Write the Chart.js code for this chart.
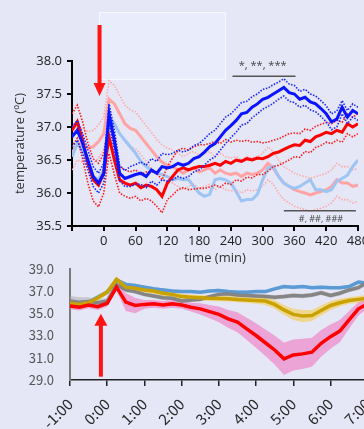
<!DOCTYPE html>
<html>
<head>
<meta charset="utf-8">
<script src="https://cdn.jsdelivr.net/npm/chart.js@4.4.1/dist/chart.umd.min.js"></script>
<style>
  html, body { margin: 0; padding: 0; background: #e5e7f6; width: 364px; height: 429px; overflow: hidden; }
  #wrap { position: relative; width: 364px; height: 429px; }
  canvas { position: absolute; left: 0; }
  #bottomChart { top: 245px; }
  #topChart { top: 0; }
</style>
</head>
<body>
<div id="wrap">
  <canvas id="bottomChart" width="400" height="184"></canvas>
  <canvas id="topChart" width="364" height="270"></canvas>
</div>
<script>
// ---- top panel: temperature vs time (min) ----
const minutes = [-60, -50, -40, -30, -20, -10, 0, 10, 20, 30, 40, 50, 60, 70, 80, 90, 100,
  110, 120, 130, 140, 150, 160, 170, 180, 190, 200, 210, 220, 230, 240, 250, 260, 270,
  280, 290, 300, 310, 320, 330, 340, 350, 360, 370, 380, 390, 400, 410, 420, 430, 440,
  450, 460, 470, 480];
const minuteTicks = [-60, 0, 60, 120, 180, 240, 300, 360, 420, 480];
const tempTicks = [35.5, 36.0, 36.5, 37.0, 37.5, 38.0];

const blueMean = [36.85, 36.95, 36.75, 36.5, 36.25, 36.15, 36.3, 37.2, 36.8, 36.3, 36.22,
  36.25, 36.28, 36.3, 36.25, 36.35, 36.3, 36.4, 36.38, 36.4, 36.45, 36.42, 36.45, 36.52,
  36.55, 36.62, 36.7, 36.75, 36.85, 36.95, 37.02, 37.1, 37.2, 37.22, 37.3, 37.35, 37.42,
  37.45, 37.5, 37.55, 37.6, 37.52, 37.5, 37.42, 37.45, 37.38, 37.35, 37.28, 37.2, 37.08,
  37.12, 37.3, 37.15, 37.25, 37.2];
const blueSem = [0.15, 0.15, 0.15, 0.15, 0.15, 0.15, 0.15, 0.15, 0.15, 0.12, 0.12, 0.15,
  0.15, 0.17, 0.17, 0.17, 0.18, 0.2, 0.2, 0.2, 0.2, 0.2, 0.2, 0.2, 0.2, 0.2, 0.2, 0.2, 0.2,
  0.2, 0.18, 0.18, 0.17, 0.17, 0.16, 0.15, 0.15, 0.14, 0.14, 0.13, 0.13, 0.13, 0.13, 0.12,
  0.12, 0.12, 0.12, 0.12, 0.12, 0.12, 0.12, 0.1, 0.1, 0.1, 0.1];

const redMean = [36.95, 37.08, 36.8, 36.45, 36.2, 36.12, 36.3, 36.85, 36.5, 36.2, 36.15,
  36.12, 36.15, 36.08, 36.12, 36.1, 36.05, 35.95, 36.15, 36.25, 36.35, 36.38, 36.35, 36.38,
  36.4, 36.4, 36.42, 36.45, 36.42, 36.48, 36.45, 36.5, 36.48, 36.52, 36.5, 36.53, 36.52,
  36.55, 36.6, 36.62, 36.66, 36.7, 36.73, 36.72, 36.8, 36.78, 36.85, 36.88, 36.92, 36.9,
  36.95, 36.92, 37.05, 37.0, 37.05];
const redSem = [0.25, 0.25, 0.28, 0.3, 0.32, 0.33, 0.3, 0.25, 0.22, 0.2, 0.2, 0.2, 0.2,
  0.2, 0.2, 0.22, 0.25, 0.25, 0.25, 0.28, 0.3, 0.3, 0.3, 0.32, 0.33, 0.33, 0.33, 0.33,
  0.33, 0.33, 0.32, 0.3, 0.3, 0.28, 0.27, 0.25, 0.24, 0.22, 0.2, 0.2, 0.2, 0.2, 0.18,
  0.18, 0.17, 0.17, 0.16, 0.16, 0.15, 0.15, 0.15, 0.15, 0.15, 0.15, 0.15];

const pinkMean = [36.6, 36.75, 36.72, 36.68, 36.7, 36.78, 36.9, 37.42, 37.35, 37.2, 37.05,
  36.98, 36.95, 36.85, 36.75, 36.65, 36.55, 36.47, 36.42, 36.4, 36.35, 36.3, 36.35, 36.38,
  36.32, 36.35, 36.38, 36.3, 36.35, 36.3, 36.28, 36.3, 36.25, 36.3, 36.28, 36.3, 36.35,
  36.45, 36.38, 36.25, 36.15, 36.1, 36.05, 36.02, 36.0, 35.97, 36.0, 36.02, 36.05, 36.1,
  36.2, 36.15, 36.15, 36.1, 36.12];
const pinkSem = [0.25, 0.25, 0.25, 0.25, 0.25, 0.25, 0.25, 0.28, 0.28, 0.28, 0.28, 0.28,
  0.28, 0.27, 0.27, 0.27, 0.26, 0.26, 0.26, 0.25, 0.25, 0.25, 0.25, 0.25, 0.25, 0.25, 0.25,
  0.25, 0.25, 0.25, 0.25, 0.25, 0.25, 0.25, 0.25, 0.25, 0.25, 0.25, 0.25, 0.25, 0.25, 0.25,
  0.25, 0.25, 0.25, 0.25, 0.25, 0.25, 0.25, 0.25, 0.25, 0.25, 0.25, 0.25, 0.25];

const lightBlueMean = [36.55, 36.75, 36.65, 36.45, 36.25, 36.2, 36.35, 37.15, 37.05, 36.9,
  36.8, 36.7, 36.6, 36.48, 36.4, 36.35, 36.3, 36.28, 36.25, 36.2, 36.22, 36.2, 36.2, 36.1,
  36.0, 35.95, 35.98, 36.2, 36.22, 36.2, 36.15, 36.02, 35.88, 35.9, 35.9, 35.98, 36.2,
  36.38, 36.4, 36.25, 36.15, 36.1, 36.07, 36.1, 36.15, 36.2, 36.05, 36.05, 36.02, 36.05,
  36.18, 36.22, 36.27, 36.4, 36.5];

// ---- bottom panel: temperature vs clock time (h) ----
const hours = [-1, -0.75, -0.5, -0.25, 0, 0.25, 0.5, 0.75, 1, 1.25, 1.5, 1.75, 2, 2.25,
  2.5, 2.75, 3, 3.25, 3.5, 3.75, 4, 4.25, 4.5, 4.75, 5, 5.25, 5.5, 5.75, 6, 6.25, 6.5,
  6.75, 7, 7.25, 7.5];
const hourTicks = [-1, 0, 1, 2, 3, 4, 5, 6, 7];
const hourLabels = ['-1:00', '0:00', '1:00', '2:00', '3:00', '4:00', '5:00', '6:00', '7:00'];
const lowerTicks = [29, 31, 33, 35, 37, 39];

const goldMean = [35.9, 35.8, 35.95, 36.4, 36.9, 38.05, 37.35, 37.25, 37.1, 37.0, 36.8,
  36.7, 36.5, 36.45, 36.4, 36.35, 36.33, 36.3, 36.25, 36.2, 36.15, 36.1, 35.8, 35.3, 34.9,
  34.75, 34.8, 35.25, 35.7, 35.95, 36.15, 36.25, 36.35, 36.4, 36.4];
const goldSd = [0.25, 0.25, 0.25, 0.25, 0.25, 0.25, 0.25, 0.25, 0.25, 0.25, 0.25, 0.25,
  0.25, 0.25, 0.25, 0.25, 0.25, 0.25, 0.25, 0.25, 0.3, 0.35, 0.4, 0.45, 0.5, 0.55, 0.5,
  0.45, 0.4, 0.35, 0.3, 0.3, 0.3, 0.3, 0.3];

const skyMean = [35.9, 35.95, 36.0, 36.45, 36.9, 38.0, 37.6, 37.5, 37.35, 37.2, 37.1, 37.0,
  36.95, 36.95, 36.9, 37.0, 37.05, 36.95, 36.9, 36.9, 36.95, 36.95, 37.2, 37.4, 37.35,
  37.4, 37.3, 37.35, 37.3, 37.3, 37.4, 37.8, 37.7, 37.7, 37.65];
const skySd = [0.15, 0.15, 0.15, 0.15, 0.15, 0.15, 0.15, 0.15, 0.15, 0.15, 0.15, 0.15,
  0.15, 0.15, 0.15, 0.15, 0.15, 0.15, 0.15, 0.15, 0.15, 0.15, 0.15, 0.15, 0.15, 0.15,
  0.15, 0.15, 0.15, 0.15, 0.15, 0.15, 0.15, 0.15, 0.15];

const grayMean = [36.1, 36.0, 36.05, 35.95, 36.1, 37.6, 37.1, 36.95, 36.7, 36.55, 36.4,
  36.35, 36.1, 36.2, 36.25, 36.5, 36.7, 36.75, 36.65, 36.6, 36.55, 36.5, 36.45, 36.5, 36.6,
  36.55, 36.65, 36.85, 36.6, 36.8, 37.1, 37.3, 37.8, 37.9, 37.9];
const graySd = [0.45, 0.45, 0.4, 0.3, 0.25, 0.2, 0.2, 0.2, 0.2, 0.2, 0.2, 0.2, 0.2, 0.2,
  0.2, 0.2, 0.2, 0.2, 0.2, 0.2, 0.2, 0.2, 0.2, 0.2, 0.2, 0.2, 0.2, 0.2, 0.2, 0.2, 0.2,
  0.2, 0.2, 0.2, 0.2];

const redHMean = [35.65, 35.55, 35.75, 35.6, 35.9, 37.35, 36.0, 35.7, 35.8, 35.85, 35.75,
  35.85, 35.75, 35.55, 35.4, 35.15, 34.9, 34.5, 34.2, 33.6, 33.0, 32.35, 31.7, 30.9, 31.25,
  31.35, 31.5, 32.3, 32.9, 33.4, 34.4, 35.4, 35.85, 36.0, 36.1];
const redHSd = [0.3, 0.3, 0.3, 0.3, 0.3, 0.3, 0.8, 0.7, 0.4, 0.35, 0.35, 0.35, 0.35, 0.4,
  0.5, 0.6, 0.7, 0.8, 0.9, 1.0, 1.1, 1.2, 1.3, 1.45, 1.4, 1.35, 1.3, 1.2, 1.1, 1.0, 0.8,
  0.6, 0.4, 0.35, 0.3];

function xy(xs, ys) {
  return ys.map((v, i) => ({ x: xs[i], y: v }));
}
function shift(ys, d, sign) {
  return ys.map((v, i) => v + sign * d[i]);
}

function meanLine(xs, ys, color, order) {
  return { data: xy(xs, ys), borderColor: color, borderWidth: 3, pointRadius: 0,
    fill: false, tension: 0, order: order };
}
function dottedLine(xs, ys, color, order) {
  return { data: xy(xs, ys), borderColor: color, borderWidth: 1.6, borderDash: [1.5, 1.5],
    pointRadius: 0, fill: false, tension: 0, order: order };
}

const topFont = { family: 'Open Sans', size: 13 };

const topNotes = {
  id: 'topNotes',
  beforeDatasetsDraw(chart) {
    const ctx = chart.ctx;
    ctx.save();
    ctx.fillStyle = '#e9ecfb';
    ctx.fillRect(99, 12, 127, 68);
    ctx.strokeStyle = '#f6f7ff';
    ctx.lineWidth = 1;
    ctx.strokeRect(99.5, 12.5, 126, 67);
    ctx.restore();
  },
  afterDraw(chart) {
    const ctx = chart.ctx;
    const x = chart.scales.x, y = chart.scales.y;
    ctx.save();
    ctx.strokeStyle = '#555';
    ctx.lineWidth = 1.5;
    ctx.beginPath();
    ctx.moveTo(x.getPixelForValue(243), y.getPixelForValue(37.77));
    ctx.lineTo(x.getPixelForValue(362), y.getPixelForValue(37.77));
    ctx.moveTo(x.getPixelForValue(340), y.getPixelForValue(35.73));
    ctx.lineTo(x.getPixelForValue(476), y.getPixelForValue(35.73));
    ctx.stroke();
    ctx.fillStyle = '#444';
    ctx.textAlign = 'center';
    ctx.textBaseline = 'middle';
    ctx.font = '11px "Open Sans"';
    ctx.fillText('*, **, ***', x.getPixelForValue(300), y.getPixelForValue(37.92));
    ctx.font = '9px "Open Sans"';
    ctx.fillText('#, ##, ###', x.getPixelForValue(410), y.getPixelForValue(35.6));
    // red arrow pointing down at the injection time
    const ax = x.getPixelForValue(-8);
    ctx.fillStyle = '#ff1414';
    ctx.fillRect(ax - 2, 25, 4, 59);
    ctx.beginPath();
    ctx.moveTo(ax - 6, 83);
    ctx.lineTo(ax + 6, 83);
    ctx.lineTo(ax, 96);
    ctx.closePath();
    ctx.fill();
    ctx.restore();
  }
};

new Chart(document.getElementById('topChart'), {
  type: 'line',
  data: {
    datasets: [
      meanLine(minutes, blueMean, '#0a14ff', 1),
      dottedLine(minutes, shift(blueMean, blueSem, 1), '#1a24ff', 2),
      dottedLine(minutes, shift(blueMean, blueSem, -1), '#1a24ff', 2),
      meanLine(minutes, redMean, '#ff0000', 3),
      dottedLine(minutes, shift(redMean, redSem, 1), '#ff1a1a', 4),
      dottedLine(minutes, shift(redMean, redSem, -1), '#ff1a1a', 4),
      meanLine(minutes, lightBlueMean, '#9cc4f4', 5),
      meanLine(minutes, pinkMean, '#ffa3a3', 6),
      dottedLine(minutes, shift(pinkMean, pinkSem, 1), '#ffaaaa', 7),
      dottedLine(minutes, shift(pinkMean, pinkSem, -1), '#ffaaaa', 7),
    ],
  },
  options: {
    responsive: false,
    animation: false,
    layout: { padding: { top: 61, right: 6, left: 0, bottom: 0 } },
    plugins: { legend: { display: false }, tooltip: { enabled: false } },
    scales: {
      x: {
        type: 'linear', min: -60, max: 480,
        afterBuildTicks: (s) => { s.ticks = minuteTicks.map((v) => ({ value: v })); },
        afterFit: (s) => { s.height = 44; s.paddingLeft = 0; s.paddingRight = 0; },
        ticks: { callback: (v) => (v < 0 ? '' : v), font: topFont, color: '#222',
          maxRotation: 0, padding: 2 },
        grid: { drawOnChartArea: false, tickLength: 5, color: '#000', lineWidth: 2 },
        border: { color: '#000', width: 2 },
        title: { display: true, text: 'time (min)', font: topFont, color: '#333',
          padding: { top: 0, bottom: 4 } },
      },
      y: {
        min: 35.5, max: 38,
        afterBuildTicks: (s) => { s.ticks = tempTicks.map((v) => ({ value: v })); },
        afterFit: (s) => { s.width = 72; },
        ticks: { callback: (v) => v.toFixed(1), font: topFont, color: '#222', padding: 5 },
        grid: { drawOnChartArea: false, tickLength: 5, color: '#000', lineWidth: 2 },
        border: { color: '#000', width: 2 },
        title: { display: true, text: 'temperature (ºC)', font: topFont, color: '#333',
          padding: { top: 12, bottom: 0 } },
      },
    },
  },
  plugins: [topNotes],
});

// ---- bottom chart ----
function band(xs, mean, sd, color, order) {
  return [
    { data: xy(xs, shift(mean, sd, 1)), borderWidth: 0, pointRadius: 0, fill: '+1',
      backgroundColor: color, tension: 0, order: order },
    { data: xy(xs, shift(mean, sd, -1)), borderWidth: 0, pointRadius: 0, fill: false,
      tension: 0, order: order },
  ];
}
function thick(xs, ys, color, order) {
  return { data: xy(xs, ys), borderColor: color, borderWidth: 3.5, pointRadius: 0,
    fill: false, tension: 0, order: order };
}

const bottomArrow = {
  id: 'bottomArrow',
  afterDraw(chart) {
    const ctx = chart.ctx;
    const x = chart.scales.x, y = chart.scales.y;
    const ax = x.getPixelForValue(-0.17);
    const tip = y.getPixelForValue(34.95);
    const base = y.getPixelForValue(29.3);
    ctx.save();
    ctx.fillStyle = '#ff1414';
    ctx.beginPath();
    ctx.moveTo(ax, tip);
    ctx.lineTo(ax + 6.5, tip + 12);
    ctx.lineTo(ax - 6.5, tip + 12);
    ctx.closePath();
    ctx.fill();
    ctx.fillRect(ax - 2, tip + 11, 4, base - tip - 11);
    ctx.restore();
  }
};

const lowFont = { family: 'Noto Sans CJK JP', size: 13 };

new Chart(document.getElementById('bottomChart'), {
  type: 'line',
  data: {
    datasets: [
      thick(hours, redHMean, '#ff0000', 1),
      thick(hours, goldMean, '#c9a200', 2),
      thick(hours, grayMean, '#858585', 3),
      thick(hours, skyMean, '#5b9bd5', 4),
      ...band(hours, redHMean, redHSd, 'rgba(240, 110, 185, 0.55)', 5),
      ...band(hours, goldMean, goldSd, 'rgba(250, 200, 40, 0.5)', 6),
      ...band(hours, grayMean, graySd, 'rgba(160, 160, 160, 0.45)', 7),
      ...band(hours, skyMean, skySd, 'rgba(91, 155, 213, 0.35)', 8),
    ],
  },
  options: {
    responsive: false,
    animation: false,
    layout: { padding: { top: 10, right: 10, left: 0, bottom: 0 } },
    plugins: { legend: { display: false }, tooltip: { enabled: false } },
    scales: {
      x: {
        type: 'linear', min: -1, max: 7.6,
        afterBuildTicks: (s) => { s.ticks = hourTicks.map((v) => ({ value: v })); },
        afterFit: (s) => { s.height = 49; s.paddingLeft = 0; s.paddingRight = 0; },
        ticks: { callback: (v) => hourLabels[hourTicks.indexOf(v)],
          font: { family: 'Noto Sans CJK JP', size: 15 },
          color: '#2a2a2a', minRotation: 45, maxRotation: 45, padding: 9 },
        grid: { drawOnChartArea: false, tickLength: 6, color: '#222', lineWidth: 1.5 },
        border: { color: '#222', width: 1.5 },
      },
      y: {
        min: 29, max: 39,
        afterBuildTicks: (s) => { s.ticks = lowerTicks.map((v) => ({ value: v })); },
        afterFit: (s) => { s.width = 70; },
        ticks: { callback: (v) => v.toFixed(1), font: lowFont, color: '#555', padding: 16 },
        grid: { drawOnChartArea: false, drawTicks: false },
        border: { color: '#7a7a7a', width: 2 },
      },
    },
  },
  plugins: [bottomArrow],
});
</script>
</body>
</html>
